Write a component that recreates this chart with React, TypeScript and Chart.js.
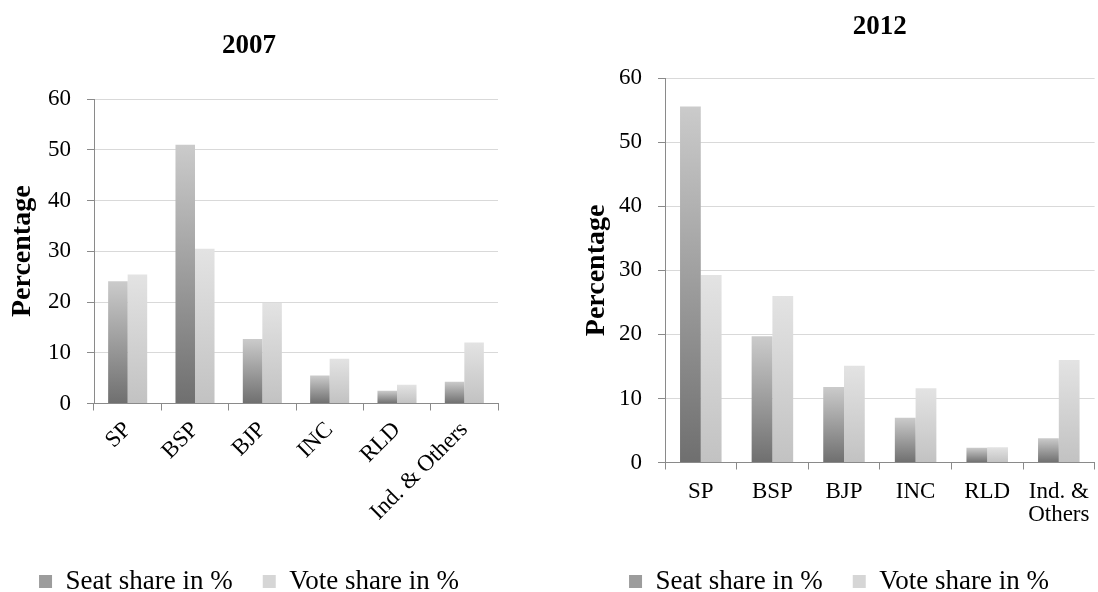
import React, { useEffect, useRef } from 'react';
import { Chart, registerables } from 'chart.js';

Chart.register(...registerables);

// ---------- data ----------
const categories2007 = ['SP', 'BSP', 'BJP', 'INC', 'RLD', 'Ind. & Others'];
const categories2012: (string | string[])[] = ['SP', 'BSP', 'BJP', 'INC', 'RLD', ['Ind. &', 'Others']];
const seriesNames = ['Seat share in %', 'Vote share in %'];
const seat2007 = [24.1, 51.0, 12.7, 5.5, 2.5, 4.3];
const vote2007 = [25.4, 30.5, 19.8, 8.8, 3.7, 12.0];
const seat2012 = [55.6, 19.7, 11.8, 7.0, 2.3, 3.8];
const vote2012 = [29.3, 26.0, 15.1, 11.6, 2.4, 16.0];
const yTicks = [0, 10, 20, 30, 40, 50, 60];
const titles = ['2007', '2012'];
const yTitle = 'Percentage';

// ---------- styles ----------
const FONT = "'Liberation Serif', 'Times New Roman', serif";
const seatColors = { dark: '#6f6f6f', light: '#cbcbcb', legend: '#9c9c9c' };
const voteColors = { dark: '#c2c2c2', light: '#e3e3e3', legend: '#d6d6d6' };

const barGradient = (dark: string, light: string) => (ctx: any) => {
  const chart = ctx.chart;
  const y = chart.scales && chart.scales.y;
  if (!chart.chartArea || !y || ctx.type !== 'data') return light;
  const v = ctx.raw as number;
  const top = y.getPixelForValue(v);
  const base = y.getPixelForValue(0);
  if (!isFinite(top) || !isFinite(base) || Math.abs(top - base) < 0.5) return dark;
  const g = chart.ctx.createLinearGradient(0, base, 0, top);
  g.addColorStop(0, dark);
  g.addColorStop(1, light);
  return g;
};

interface PanelOpts {
  labels: (string | string[])[];
  seat: number[];
  vote: number[];
  title: string;
  titleFullSize: boolean;
  titlePad: { top: number; bottom: number };
  yAxisWidth: number;
  yTitlePad: number;
  xAxisHeight: number;
  xRotation: number;
  xPad: number;
  xLineHeight: number;
  padRight: number;
}

function makeConfig(o: PanelOpts): any {
  const legendFill = [seatColors.legend, voteColors.legend];
  return {
    type: 'bar',
    data: {
      labels: o.labels,
      datasets: [
        {
          label: seriesNames[0],
          data: o.seat,
          backgroundColor: barGradient(seatColors.dark, seatColors.light),
          borderWidth: 0,
          categoryPercentage: 0.58,
          barPercentage: 1.0,
        },
        {
          label: seriesNames[1],
          data: o.vote,
          backgroundColor: barGradient(voteColors.dark, voteColors.light),
          borderWidth: 0,
          categoryPercentage: 0.58,
          barPercentage: 1.0,
        },
      ],
    },
    options: {
      responsive: false,
      animation: false,
      devicePixelRatio: 1,
      layout: { padding: { left: 0, right: o.padRight, top: 0, bottom: 0 } },
      plugins: {
        tooltip: { enabled: false },
        title: {
          display: true,
          text: o.title,
          fullSize: o.titleFullSize,
          color: '#000',
          font: { family: FONT, size: 27, weight: 'bold', lineHeight: 1.2 },
          padding: o.titlePad,
        },
        legend: {
          display: true,
          position: 'bottom',
          labels: {
            color: '#000',
            font: { family: FONT, size: 27 },
            boxWidth: 13,
            boxHeight: 13,
            padding: 30,
            generateLabels: (chart: any) =>
              chart.data.datasets.map((ds: any, i: number) => ({
                text: ds.label,
                fillStyle: legendFill[i],
                strokeStyle: legendFill[i],
                lineWidth: 0,
                hidden: false,
                datasetIndex: i,
                fontColor: '#000',
              })),
          },
        },
      },
      scales: {
        x: {
          offset: true,
          grid: {
            display: true,
            offset: true,
            drawOnChartArea: false,
            drawTicks: true,
            tickLength: 7,
            tickColor: '#8a8a8a',
            color: '#8a8a8a',
          },
          border: { display: true, color: '#8a8a8a', width: 1 },
          ticks: {
            autoSkip: false,
            maxRotation: o.xRotation,
            minRotation: o.xRotation,
            padding: o.xPad,
            color: '#000',
            font: { family: FONT, size: 23, lineHeight: o.xLineHeight },
          },
          afterFit: (scale: any) => {
            scale.height = o.xAxisHeight;
          },
        },
        y: {
          min: yTicks[0],
          max: yTicks[yTicks.length - 1],
          grid: {
            color: '#d9d9d9',
            lineWidth: 1,
            drawTicks: true,
            tickLength: 7,
            tickColor: '#8a8a8a',
          },
          border: { display: true, color: '#8a8a8a', width: 1 },
          ticks: {
            stepSize: yTicks[1] - yTicks[0],
            padding: 16,
            color: '#000',
            font: { family: FONT, size: 23 },
          },
          title: {
            display: true,
            text: yTitle,
            color: '#000',
            font: { family: FONT, size: 28, weight: 'bold', lineHeight: 1.2 },
            padding: { top: o.yTitlePad, bottom: 0 },
          },
          afterFit: (scale: any) => {
            scale.width = o.yAxisWidth;
          },
        },
      },
    },
  };
}

function ChartPanel(props: { opts: PanelOpts; left: number; width: number; height: number }) {
  const ref = useRef<HTMLCanvasElement | null>(null);
  useEffect(() => {
    if (!ref.current) return;
    const chart = new Chart(ref.current, makeConfig(props.opts));
    return () => chart.destroy();
  }, []);
  return (
    <canvas
      ref={ref}
      width={props.width}
      height={props.height}
      style={{
        position: 'absolute',
        left: props.left,
        top: 0,
        width: props.width,
        height: props.height,
        display: 'block',
      }}
    />
  );
}

export default function App() {
  const left: PanelOpts = {
    labels: categories2007,
    seat: seat2007,
    vote: vote2007,
    title: titles[0],
    titleFullSize: true,
    titlePad: { top: 29.8, bottom: 36.8 },
    yAxisWidth: 94,
    yTitlePad: 6,
    xAxisHeight: 134.5,
    xRotation: 45,
    xPad: 6,
    xLineHeight: 1.2,
    padRight: 2,
  };
  const right: PanelOpts = {
    labels: categories2012,
    seat: seat2012,
    vote: vote2012,
    title: titles[1],
    titleFullSize: false,
    titlePad: { top: 10.8, bottom: 35.1 },
    yAxisWidth: 88,
    yTitlePad: 3,
    xAxisHeight: 75.5,
    xRotation: 0,
    xPad: 11,
    xLineHeight: 1.0,
    padRight: 0,
  };
  return (
    <div
      style={{
        position: 'fixed',
        left: 0,
        top: 0,
        width: 1098,
        height: 592,
        overflow: 'hidden',
        background: '#ffffff',
      }}
    >
      <ChartPanel opts={left} left={0} width={500} height={605} />
      <ChartPanel opts={right} left={577} width={524} height={605} />
    </div>
  );
}
